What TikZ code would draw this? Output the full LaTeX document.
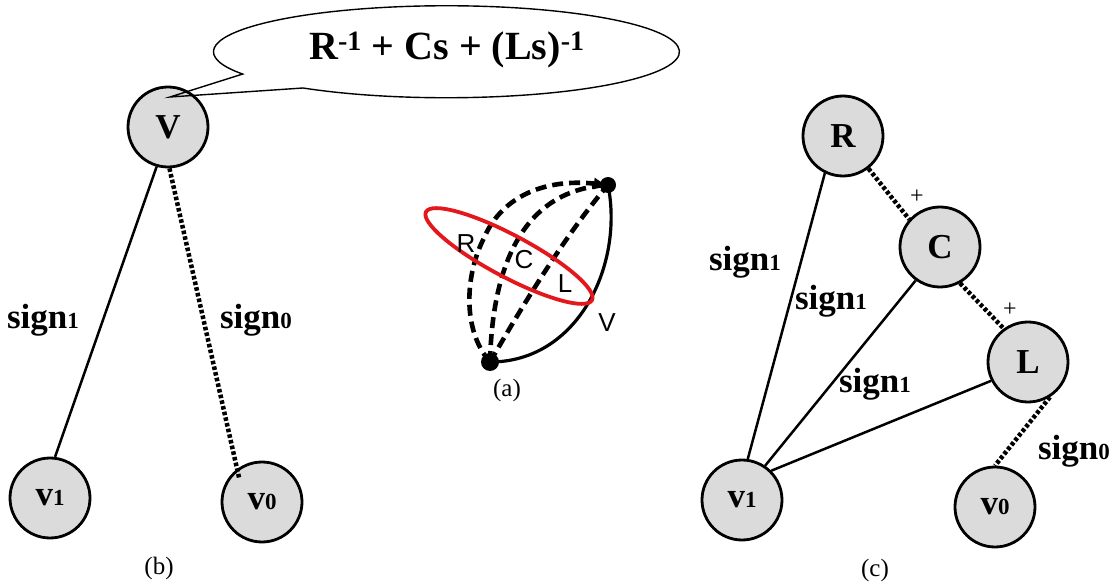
\documentclass[tikz,border=0pt]{standalone}
\usepackage{fontspec}
\setmainfont{Liberation Serif}
\newfontfamily\arialfont{Liberation Sans}
\usetikzlibrary{calc,arrows.meta}
\newcommand{\smalldigit}[1]{{\fontsize{23}{23}\selectfont #1}}
\begin{document}
\begin{tikzpicture}[x=1pt,y=-1pt,
  vnode/.style={circle, draw, line width=2.8pt, fill=black!14, minimum size=80pt, inner sep=0pt,
    font=\fontsize{35}{36}\selectfont\bfseries},
  sedge/.style={line width=2.5pt},
  dedge/.style={line width=4.5pt, dash pattern=on 3.6pt off 2.2pt},
  lbl/.style={font=\fontsize{35}{38}\selectfont\bfseries, inner sep=0pt},
  caption/.style={font=\fontsize{25}{27}\selectfont, inner sep=0pt},
  plus/.style={font=\fontsize{24}{26}\selectfont, inner sep=0pt},
  alabel/.style={font=\fontsize{26}{28}\selectfont\arialfont, inner sep=0pt},
  dcurve/.style={line width=4.6pt, dash pattern=on 11pt off 6pt},
  dot/.style={circle, fill=black, inner sep=0pt, minimum size=#1},
]
\useasboundingbox (0,0) rectangle (1117,585);

% ---------------- (b) ----------------
\node[vnode] (V) at (168,127) {V};
\node[vnode] (bv1) at (50,498) {v\smalldigit{1}};
\node[vnode] (bv0) at (262,502) {v\smalldigit{0}};
\draw[sedge] (V.254) -- (bv1.83);
\draw[dedge, shorten >=-9pt] (V.272) -- (bv0.127);
\node[lbl] (bs1) at (43,320) {sign\smalldigit{1}};
\node[lbl] (bs0) at (256,320) {sign\smalldigit{0}};
\node[caption] (bcap) at (159,568) {(b)};

% callout
\coordinate (tip) at (170,97);
\draw[line width=1.4pt] (tip) -- (303,88)
  arc[start angle=128, end angle=-209, x radius=233, y radius=46] -- cycle;
\node[font=\fontsize{40}{42}\selectfont\bfseries, inner sep=0pt] (formula) at (447,50)
  {R\textsuperscript{-1} + Cs + (Ls)\textsuperscript{-1}};

% ---------------- (a) ----------------
\node[dot=16pt] (top) at (608,185) {};
\node[dot=18pt] (bot) at (490,362) {};
\coordinate (outermid) at (484,238);
\draw[line width=3.2pt] (bot.center) .. controls (578,362) and (624,265) .. (top.center);
\draw[dcurve, -{Triangle[length=11pt,width=11pt]}, shorten >=3pt]
  (bot.center) .. controls (462,330) and (465,275) .. (outermid)
  .. controls (500,200) and (540,178) .. (top.center);
\draw[dcurve] (bot.center) .. controls (492,280) and (515,190) .. (top.center);
\draw[dcurve] (bot.center) .. controls (520,310) and (565,235) .. (top.center);
\draw[line width=3.8pt, color={rgb,255:red,228;green,24;blue,28}, rotate around={-28:(509,256)}]
  (509,256) ellipse[x radius=94, y radius=21];
\node[alabel] (aR) at (466,244) {R};
\node[alabel] (aC) at (524,260) {C};
\node[alabel] (aL) at (565,284) {L};
\node[alabel] (aV) at (607,323) {V};
\node[caption] (acap) at (507,390) {(a)};

% ---------------- (c) ----------------
\node[vnode] (R) at (843,136) {R};
\node[vnode] (C) at (940,247) {C};
\node[vnode] (L) at (1028,362) {L};
\node[vnode] (cv1) at (742,500) {v\smalldigit{1}};
\node[vnode] (cv0) at (995,507) {v\smalldigit{0}};
\draw[sedge] (R.244) -- (cv1.82);
\draw[sedge] (C.234) -- (cv1.56);
\draw[sedge] (L.207) -- (cv1.45);
\draw[dedge] (R.308) -- (C.138);
\draw[dedge] (C.299) -- (L.126);
\draw[dedge] (L.302) -- (cv0.90);
\node[plus] (p1) at (917,197) {+};
\node[plus] (p2) at (1010,310) {+};
\node[lbl] (cs1a) at (745,262) {sign\smalldigit{1}};
\node[lbl] (cs1b) at (831,301) {sign\smalldigit{1}};
\node[lbl] (cs1c) at (875,384) {sign\smalldigit{1}};
\node[lbl] (cs0) at (1074,451) {sign\smalldigit{0}};
\node[caption] (ccap) at (875,570) {(c)};
\end{tikzpicture}
\end{document}
